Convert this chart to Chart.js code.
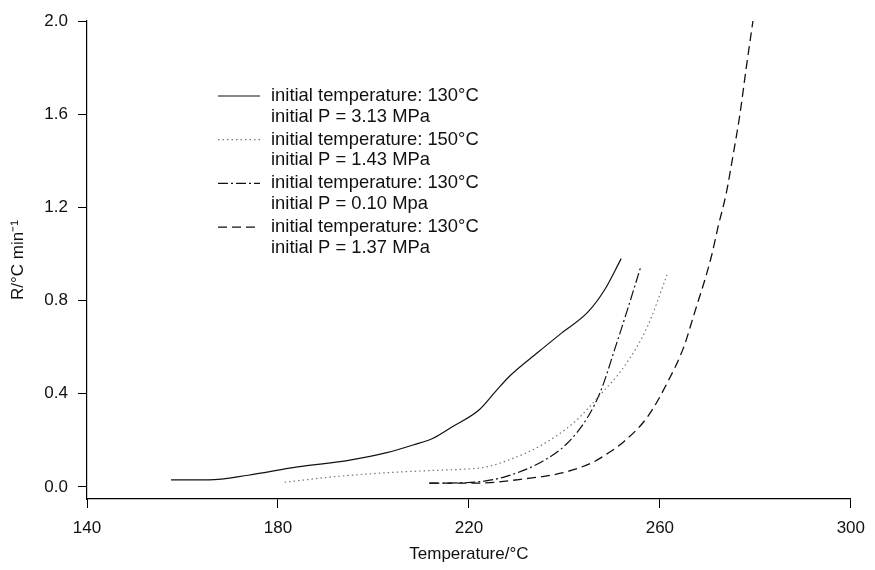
<!DOCTYPE html>
<html lang="en">
<head>
  <meta charset="UTF-8" />
  <title>R vs temperature</title>
  <script src="https://cdn.jsdelivr.net/npm/chart.js"></script>
  <style>
    body {
      margin: 0;
      background: #fff;
    }
    #wrap {
      width: 875px;
      height: 570px;
      position: relative;
    }
  </style>
</head>
<body>
  <div id="wrap"><canvas id="chart"></canvas></div>

  <script>
    // values (T in °C, R in °C/min)
    const tSolid = [157.6, 165.5, 173.8, 184.1, 194.5, 202.8, 208.3, 212.5, 216.6, 222.1, 225.6, 228.4, 234.6, 239.4, 244.9, 248.4, 251.9];
    const rSolid = [0.030, 0.030, 0.050, 0.086, 0.113, 0.147, 0.180, 0.209, 0.259, 0.330, 0.410, 0.473, 0.580, 0.660, 0.750, 0.845, 0.980];

    const tDotted = [181.4, 191.0, 201.4, 211.8, 218.7, 223.5, 228.4, 235.3, 242.2, 247.7, 252.5, 257.4, 261.5];
    const rDotted = [0.020, 0.042, 0.059, 0.070, 0.076, 0.085, 0.116, 0.180, 0.280, 0.400, 0.516, 0.688, 0.910];

    const tDashDot = [211.7, 218.0, 223.0, 228.0, 235.0, 240.5, 244.9, 247.7, 250.5, 253.2, 256.0];
    const rDashDot = [0.016, 0.017, 0.024, 0.046, 0.105, 0.185, 0.300, 0.416, 0.588, 0.760, 0.945];

    const tDashed = [211.7, 221.5, 231.8, 239.5, 245.7, 249.1, 252.5, 257.4, 261.5, 265.0, 267.0, 270.8, 272.2, 273.9, 275.3, 276.7, 278.1, 279.5];
    const rDashed = [0.016, 0.016, 0.035, 0.060, 0.103, 0.144, 0.195, 0.300, 0.445, 0.600, 0.730, 0.990, 1.117, 1.260, 1.420, 1.590, 1.800, 2.000];

    const xTicks = [140, 180, 220, 260, 300];
    const yTicks = [0.0, 0.4, 0.8, 1.2, 1.6, 2.0];

    const legendLines = [
      ['initial temperature: 130°C', 'initial P = 3.13 MPa'],
      ['initial temperature: 150°C', 'initial P = 1.43 MPa'],
      ['initial temperature: 130°C', 'initial P = 0.10 Mpa'],
      ['initial temperature: 130°C', 'initial P = 1.37 MPa']
    ];

    const pts = (xs, ys) => xs.map((x, i) => ({ x: x, y: ys[i] }));

    const styles = [
      { color: '#111', width: 1.2, dash: [] },
      { color: '#777', width: 1.2, dash: [1.5, 3] },
      { color: '#111', width: 1.2, dash: [10, 3, 2, 3] },
      { color: '#111', width: 1.3, dash: [9, 5] }
    ];

    const series = [
      pts(tSolid, rSolid),
      pts(tDotted, rDotted),
      pts(tDashDot, rDashDot),
      pts(tDashed, rDashed)
    ];

    // legend drawn by hand: two lines of text per entry
    const sideLegend = {
      id: 'sideLegend',
      afterDraw(chart) {
        const ctx = chart.ctx;
        ctx.save();
        ctx.font = '18.4px "Liberation Sans", Arial, sans-serif';
        ctx.fillStyle = '#111';
        ctx.textBaseline = 'middle';
        legendLines.forEach((lines, i) => {
          const y = 96 + i * 43.7;
          const st = styles[i];
          ctx.beginPath();
          ctx.strokeStyle = st.color;
          ctx.lineWidth = st.width;
          ctx.setLineDash(st.dash);
          ctx.moveTo(218, y);
          ctx.lineTo(260, y);
          ctx.stroke();
          ctx.setLineDash([]);
          ctx.fillText(lines[0], 271, y);
          ctx.fillText(lines[1], 271, y + 20.7);
        });
        ctx.restore();
      }
    };

    const ctx = document.getElementById('chart').getContext('2d');
    new Chart(ctx, {
      type: 'line',
      data: {
        datasets: series.map((d, i) => ({
          label: legendLines[i].join(' '),
          data: d,
          borderColor: styles[i].color,
          borderWidth: styles[i].width,
          borderDash: styles[i].dash,
          pointRadius: 0,
          fill: false,
          cubicInterpolationMode: 'monotone'
        }))
      },
      options: {
        responsive: true,
        maintainAspectRatio: false,
        animation: false,
        layout: { padding: { top: 21, right: 16, left: 0, bottom: 0 } },
        plugins: {
          legend: { display: false },
          tooltip: { enabled: false }
        },
        scales: {
          x: {
            type: 'linear',
            min: 140,
            max: 300,
            afterBuildTicks: s => { s.ticks = xTicks.map(v => ({ value: v })); },
            afterFit: s => { s.height = 71; },
            grid: { drawOnChartArea: false, tickLength: 9, color: '#000' },
            border: { color: '#000', width: 1.2 },
            ticks: {
              padding: 10,
              color: '#111',
              font: { family: '"Liberation Sans", Arial, sans-serif', size: 17 }
            },
            title: {
              display: true,
              text: 'Temperature/°C',
              color: '#111',
              padding: { top: 0, bottom: 5 },
              font: { family: '"Liberation Sans", Arial, sans-serif', size: 17 }
            }
          },
          y: {
            min: -0.052,
            max: 2.0,
            afterBuildTicks: s => { s.ticks = yTicks.map(v => ({ value: v })); },
            afterFit: s => { s.width = 87; },
            grid: { drawOnChartArea: false, tickLength: 9, color: '#000' },
            border: { color: '#000', width: 1.2 },
            ticks: {
              padding: 10,
              color: '#111',
              callback: v => v.toFixed(1),
              font: { family: '"Liberation Sans", Arial, sans-serif', size: 17 }
            },
            title: {
              display: true,
              text: 'R/°C min⁻¹',
              color: '#111',
              padding: { top: 8, bottom: 0 },
              font: { family: '"Liberation Sans", Arial, sans-serif', size: 17 }
            }
          }
        }
      },
      plugins: [sideLegend]
    });
  </script>
</body>
</html>
